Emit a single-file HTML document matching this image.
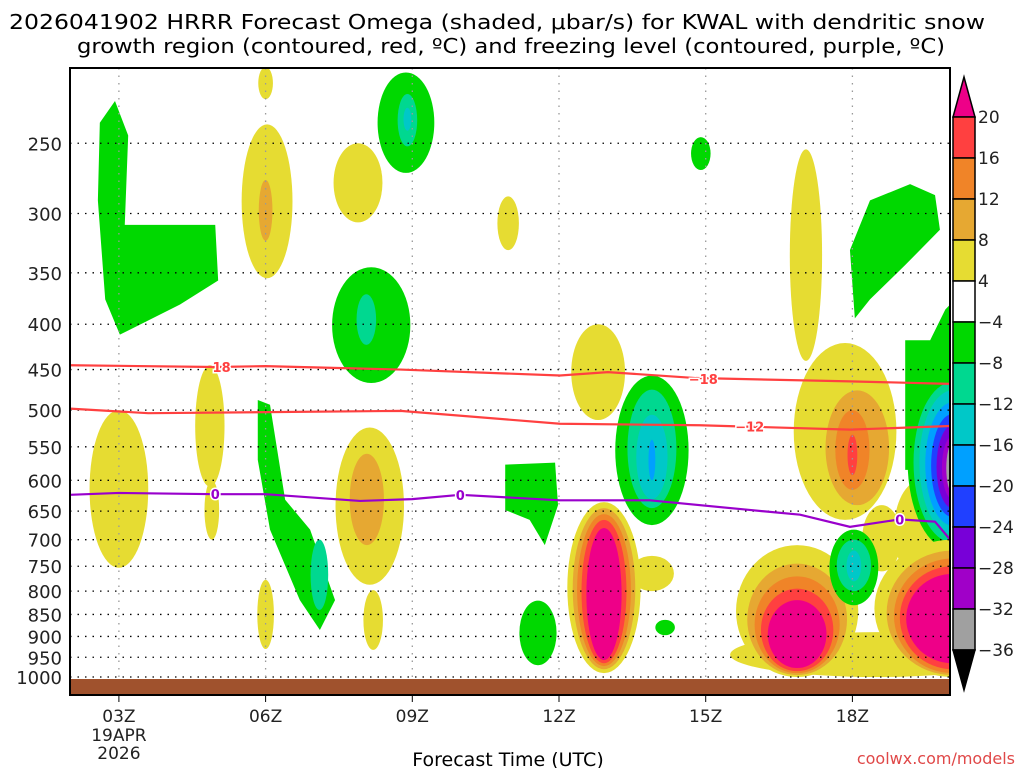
<!DOCTYPE html>
<html><head><meta charset="utf-8"><style>
body{margin:0;background:#fff;width:1024px;height:768px;overflow:hidden;font-family:"Liberation Sans",sans-serif}
svg text{font-family:"DejaVu Sans","Liberation Sans",sans-serif}
</style></head><body>
<svg id="chart" width="1024" height="768" viewBox="0 0 1024 768">
<text x="497" y="29" font-size="20" text-anchor="middle" fill="#000" textLength="976" lengthAdjust="spacingAndGlyphs">2026041902 HRRR Forecast Omega (shaded, μbar/s) for KWAL with dendritic snow</text>
<text x="511" y="53" font-size="20" text-anchor="middle" fill="#000" textLength="868" lengthAdjust="spacingAndGlyphs">growth region (contoured, red, ºC) and freezing level (contoured, purple, ºC)</text>
<defs><clipPath id="plotclip"><rect x="70" y="68" width="880" height="627"/></clipPath></defs>
<g id="shading" clip-path="url(#plotclip)"></g>
<g id="grid"></g>
<g id="lines" clip-path="url(#plotclip)"></g>
<rect x="70" y="679" width="880" height="16" fill="#a0522d"/>
<rect x="70" y="68" width="880" height="627" fill="none" stroke="#000" stroke-width="2"/>
<g id="axes"></g>
<g id="cbar"></g>
<text x="508" y="766" font-size="19" text-anchor="middle" fill="#000">Forecast Time (UTC)</text>
<text x="1015" y="764" font-size="16" text-anchor="end" fill="#e04848">coolwx.com/models</text>
</svg>
<script>
const NS='http://www.w3.org/2000/svg';
const pressureTicks=[250,300,350,400,450,500,550,600,650,700,750,800,850,900,950,1000];
const hourTicks=[3,6,9,12,15,18];
const hourLabels=['03Z','06Z','09Z','12Z','15Z','18Z'];
const cbarLabels=['20','16','12','8','4','−4','−8','−12','−16','−20','−24','−28','−32','−36'];
const levelColors=['#ee0088','#ff4040','#f08428','#e6a832','#e6dc32','#ffffff','#00d800','#00d890','#00c8c8','#00a0ff','#2040ff','#7800d8','#a000c8','#a0a0a0','#000000'];
// blobs: [hour, pTop, pBottom, halfWidthHours, level]
const blobs=[
[18.5,890,1000,3.0,4],[19.4,600,780,0.55,4],[18.6,640,760,0.4,4],
[6.0,205,223,0.15,4],[6.03,238,355,0.52,4],[6.0,275,322,0.14,3],
[7.89,250,307,0.5,4],[10.96,287,330,0.22,4],[14.9,246,268,0.2,6],
[8.87,208,270,0.58,6],[8.9,220,252,0.2,7],[8.9,228,242,0.08,8],
[8.16,345,466,0.8,6],[8.06,370,422,0.2,7],
[12.8,400,513,0.55,4],
[17.05,254,440,0.33,4],[17.85,420,665,1.05,4],[18.1,475,640,0.65,3],[18.0,500,615,0.35,2],[18.0,533,592,0.1,1],
[20.05,455,720,0.92,6],[20.05,465,705,0.8,7],[20.05,475,690,0.68,8],[20.05,490,675,0.56,9],[20.05,505,660,0.44,10],[20.05,520,645,0.33,11],[20.05,535,630,0.22,12],[20.05,545,620,0.13,13],[20.05,555,610,0.07,14],
[3.0,500,753,0.6,4],[4.86,445,610,0.3,4],[4.9,600,700,0.15,4],
[7.1,700,840,0.18,7],
[8.13,523,787,0.7,4],[8.07,560,710,0.35,3],
[6.0,777,930,0.17,4],[8.2,798,932,0.2,4],
[11.57,820,970,0.38,6],[14.17,862,897,0.2,6],
[13.9,457,674,0.75,6],[13.9,474,645,0.5,7],[13.9,506,630,0.32,8],[13.9,540,600,0.07,9],
[13.9,730,800,0.45,4],
[12.92,635,990,0.75,4],[12.92,645,980,0.64,3],[12.92,655,972,0.55,2],[12.92,665,965,0.46,1],[12.92,679,957,0.36,0],
[16.87,710,1000,1.25,4],[16.87,745,995,1.02,3],[16.87,770,990,0.87,2],[16.87,795,985,0.74,1],[16.87,819,977,0.6,0],
[18.03,682,830,0.5,6],[18.03,700,800,0.35,7],[18.03,720,780,0.15,8],
[20.05,700,1000,1.6,4],[20.05,720,995,1.35,3],[20.05,735,990,1.2,2],[20.05,750,980,1.08,1],[20.05,765,965,0.95,0]
];
const greenLeftPts=[[2.61,237],[2.92,224],[3.19,245],[3.12,309],[4.97,309],[5.03,357],[4.25,380],[3.02,411],[2.72,375],[2.57,290]];
const greenUpperRightPts=[[17.95,330],[18.36,290],[19.18,278],[19.69,286],[19.79,313],[19.08,343],[18.36,375],[18.05,394]];
const greenRightPts=[[19.08,417],[19.59,417],[19.9,385],[20.1,375],[20.1,584],[19.08,584]];
const greenTiltPts=[[5.84,487],[6.09,493],[6.4,631],[6.91,682],[7.42,819],[7.11,885],[6.7,819],[6.09,682],[5.84,569]];
const greenMidPts=[[10.9,576],[11.92,573],[11.98,640],[11.71,710],[11.4,665],[10.9,648]];
const polys=[[greenLeftPts,6],[greenUpperRightPts,6],[greenRightPts,6],[greenTiltPts,6],[greenMidPts,6]];
const freezeHours=[2,3,4.97,6,7.93,9,9.98,12.02,13.86,15.9,16.93,17.95,18.97,19.69,20];
const freezeP=[623,620,622,622,633,630,623,632,632,648,656,677,664,668,700];
const m18Hours=[2,4.97,6,8.76,12.02,13.0,14.8,17.95,20];
const m18P=[445,447,446,450,457,453,460,464,467];
const m12Hours=[2,3.6,8.76,12.02,14.88,17.95,20];
const m12P=[498,504,501,518,520,526,521];

const X=h=>70+(h-2)*48.9;
const Y=p=>677+385*Math.log(p/1000);
function el(tag,attrs,parent){const e=document.createElementNS(NS,tag);for(const k in attrs)e.setAttribute(k,attrs[k]);parent.appendChild(e);return e;}
const shading=document.getElementById('shading');
polys.forEach((pg,i)=>{
  const e=el('polygon',{points:pg[0].map(q=>X(q[0])+','+Y(q[1])).join(' '),fill:levelColors[pg[1]]},shading);
  
  
});
blobs.forEach((b,i)=>{
  const yt=Y(b[1]),yb=Y(b[2]);
  const e=el('ellipse',{cx:X(b[0]),cy:(yt+yb)/2,rx:b[3]*48.9,ry:(yb-yt)/2,fill:levelColors[b[4]]},shading);
  
  
});
const grid=document.getElementById('grid');
pressureTicks.forEach(p=>{
  const l=el('line',{x1:70,x2:950,y1:Y(p),y2:Y(p),stroke:'#000','stroke-width':1.3,'stroke-dasharray':'1.5 6'},grid);
  
  
});
hourTicks.forEach(h=>{
  const l=el('line',{x1:X(h),x2:X(h),y1:68,y2:695,stroke:'#999','stroke-width':1.3,'stroke-dasharray':'1.5 6'},grid);
  
  
});
const lines=document.getElementById('lines');
function contour(hs,ps,color,name){
  const e=el('polyline',{points:hs.map((h,i)=>X(h)+','+Y(ps[i])).join(' '),fill:'none',stroke:color,'stroke-width':2.2},lines);
  
  
}
contour(m18Hours,m18P,'#ff4040','contour-minus18');
contour(m12Hours,m12P,'#ff4040','contour-minus12');
contour(freezeHours,freezeP,'#9900cc','freezing-level');
function clabel(h,p,txt,color,name){
  const t=el('text',{x:X(h),y:Y(p)+5,'font-size':13,'font-weight':'bold','text-anchor':'middle',fill:color,stroke:'#fff','stroke-width':3,'paint-order':'stroke'},lines);
  t.textContent=txt;
  
  
}
clabel(5.1,447,'18','#ff4040','label-18');
clabel(14.95,461,'−18','#ff4040','label-minus18-b');
clabel(15.9,522,'−12','#ff4040','label-minus12');
clabel(4.97,622,'0','#9900cc','label-0-a');
clabel(9.98,623,'0','#9900cc','label-0-b');
clabel(18.97,664,'0','#9900cc','label-0-c');
const axes=document.getElementById('axes');
pressureTicks.forEach(p=>{
  const t=el('text',{x:62,y:Y(p)+7,'font-size':18,'text-anchor':'end',fill:'#222'},axes);
  t.textContent=p;
  
  
});
hourTicks.forEach((h,i)=>{
  const tk=el('line',{x1:X(h),x2:X(h),y1:695,y2:702,stroke:'#000'},axes);
  
  
  const t=el('text',{x:X(h),y:722,'font-size':17,'text-anchor':'middle',fill:'#222'},axes);
  t.textContent=hourLabels[i];
  
  
});
[['19APR',740],['2026',758]].forEach(d=>{
  const t=el('text',{x:X(3),y:d[1]+1,'font-size':17,'text-anchor':'middle',fill:'#222'},axes);
  t.textContent=d[0];
  
  
});
const cbar=document.getElementById('cbar');
const cx0=953,cw=22,ct=117,cs=41;
const up=el('polygon',{points:`${cx0},${ct} ${cx0+cw},${ct} ${cx0+cw/2},${ct-40}`,fill:levelColors[0],stroke:'#000','stroke-width':1.5},cbar);


for(let i=0;i<13;i++){
  const r=el('rect',{x:cx0,y:ct+i*cs,width:cw,height:cs,fill:levelColors[i+1],stroke:'#000','stroke-width':1.5},cbar);
  
  
}
const dn=el('polygon',{points:`${cx0},${ct+13*cs} ${cx0+cw},${ct+13*cs} ${cx0+cw/2},${ct+13*cs+40}`,fill:'#000',stroke:'#000','stroke-width':1.5},cbar);


cbarLabels.forEach((s,i)=>{
  const t=el('text',{x:978,y:ct+i*cs+6,'font-size':17,fill:'#222'},cbar);
  t.textContent=s;
  
  
});
</script>
</body></html>
